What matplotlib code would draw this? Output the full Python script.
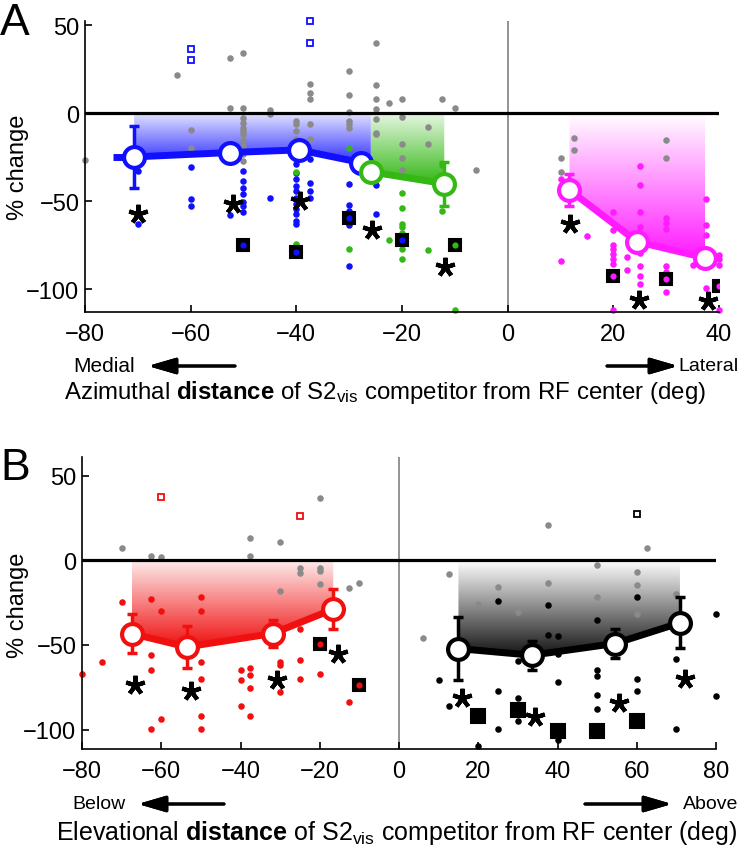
import numpy as np
import matplotlib
matplotlib.use("Agg")
import matplotlib.pyplot as plt
from matplotlib.patches import Polygon
from matplotlib.colors import to_rgb

plt.rcParams["font.family"] = "Liberation Sans"
plt.rcParams["mathtext.fontset"] = "custom"
plt.rcParams["mathtext.rm"] = "Liberation Sans"
plt.rcParams["mathtext.bf"] = "Liberation Sans:bold"
plt.rcParams["mathtext.it"] = "Liberation Sans:italic"

BLUE = "#1010ff"
GREEN = "#33b814"
MAGENTA = "#ff1aff"
RED = "#f01010"
BLACK = "#000000"
GRAY = "#8a8a8a"

# ---------------- Panel A: azimuth ----------------
az_gray_x = [-80, -62.5, -60, -60, -52.5, -50, -52.5, -50, -50, -50, -50, -50, -50, -50, -50, -50, -50,
             -45, -45, -40, -40, -40, -40, -40, -37.5, -37.5, -37.5, -37.5, -37.5,
             -30, -30, -30, -30, -30, -30, -25, -25, -25, -25, -25, -25, -25, -22.5,
             -20, -20, -20, -20, -20, -15, -15, -12.5, -10, -6,
             10, 10, 12.5, 12.5, 30, 30]
az_gray_y = [-26.5, 21.8, -9.5, -20, 31.4, 34.3, 2.8, 2.8, -2.4, -5.3, -8.1, -10, -11.9, -15.3, -18.6, -23.3, -27.1,
             1.9, -0.6, -4.4, -6.3, -10, -14.8, -21.4, 16.5, 11.8, 8, -6.3, -14.8,
             24, 10.6, 0.7, -4.4, -6.3, -8.1, 40.2, 16.3, 8, 2.3, -3, -11, -11.9, 5.9,
             8, -2.1, -17.2, -25.6, -32, -7.8, -17.2, 8, 3.2, -32,
             -25.2, -33.3, -13.8, -21, -15, -25.7]

az_blue_x = [-70, -70, -60, -60, -60, -52.5, -50, -50, -50, -50, -50, -50, -50, -45,
             -40, -40, -40, -40, -40, -40, -40, -40, -40, -40, -40,
             -37.5, -37.5, -37.5, -37.5, -30, -30, -30, -30, -30, -25, -25]
az_blue_y = [-32.8, -63, -30.4, -49, -52.7, -57.8, -32.8, -38.5, -42.2, -46, -50.7, -52.7, -55.9, -47.9,
             -29, -33.7, -37.5, -41.3, -44.1, -47.9, -51.7, -54.5, -57.4, -61.2, -63,
             -26, -39.5, -44, -48, -40.3, -52.3, -55.5, -63.6, -87.1, -40.7, -57.4]

az_green_x = [-30, -40, -40, -30, -20, -20, -20, -20, -20, -20, -20, -22.5, -15, -12.5, -12.5, -10]
az_green_y = [-19.5, -33.3, -74.4, -76.9, -45.3, -54, -62.7, -64.9, -67.8, -77.3, -82.6, -72, -77.8, -55.5, -29.4, -112]

az_mag_x = [10, 10, 15, 20, 20, 20, 20, 20, 20, 20, 20, 22.5, 22.5,
            25, 25, 25, 25, 25, 25, 25, 25, 30, 30, 30, 30, 30, 30, 35,
            37.5, 37.5, 37.5, 37.5, 40, 40, 40, 40]
az_mag_y = [-83.9, -37.5, -70, -55.9, -66.3, -75, -77.3, -80.1, -83, -85.8, -111.7, -82, -89,
            -29.9, -40.7, -55.9, -64.4, -79.5, -86.8, -92.4, -97.3, -59.3, -62.1, -65.9, -86.8, -90.5, -101.9, -86.2,
            -48.9, -63.6, -69.1, -99.6, -80.5, -83, -86.2, -112]

az_blue_sq_x = [-50, -40, -30, -20]
az_blue_sq_y = [-74.8, -78.8, -59.8, -72]
az_green_sq_x = [-10]
az_green_sq_y = [-75]
az_mag_sq_x = [20, 30, 40]
az_mag_sq_y = [-92.4, -94.5, -98.1]
az_blue_open_x = [-60, -60, -37.5, -37.5]
az_blue_open_y = [36.8, 30.3, 52.4, 40]

az_blue_mean_x = [-70.7, -52.5, -39.5, -27.8]
az_blue_mean_y = [-24.8, -22.3, -20.8, -28]
az_blue_err = [17.5, 3, 3, 3]
az_green_mean_x = [-25.9, -12]
az_green_mean_y = [-33.3, -40]
az_green_err = [3, 12.5]
az_mag_mean_x = [11.7, 24.5, 37.4]
az_mag_mean_y = [-43.6, -73, -82.2]
az_mag_err = [9, 3, 3]

az_star_x = [-70, -52, -39.3, -25.7, -11.8, 11.8, 24.9, 38]
az_star_y = [-57.4, -51.3, -49.8, -66.5, -87.3, -63, -106, -107]

# ---------------- Panel B: elevation ----------------
el_gray_x = [-70, -62.5, -60, -37.5, -37.5, -30, -30, -25, -25, -20, -20, -20, -20, -12.5, -10,
             6, 12.5, 20, 25, 30, 37.5, 37.5, 50, 50, 60, 60, 60, 62.5, 70]
el_gray_y = [7.3, 2.6, 2, 13.2, 2.6, 10.9, -18.3, -4.5, -7.3, 37, -4.5, -6.5, -14.2, -16.3, -13.2,
             -46.2, -7.9, -25.6, -15.7, -30.5, 21.1, -13.2, -3, -21.6, -6.9, -14.8, -31.5, 7.5, -19.7]

el_red_x = [-80, -75, -70, -62.5, -62.5, -62.5, -62.5, -60, -60,
            -50, -50, -50, -50, -50, -50, -40, -40, -40, -37.5, -37.5, -37.5, -37.5,
            -30, -30, -30, -25, -25, -25, -20, -12.5]
el_red_y = [-67.3, -60, -24.6, -22.6, -55.7, -65, -99.8, -30.1, -93.5,
            -22, -30.1, -60, -70.3, -92.1, -99.8, -65, -70.9, -86.2, -63.6, -67.5, -75.4, -92.1,
            -60, -62, -78.1, -40.8, -59, -69.9, -66.9, -84]

el_black_x = [10, 12.5, 20, 25, 25, 25, 30, 30, 30, 37.5, 37.5, 40, 40, 40, 40,
              50, 50, 50, 50, 50, 60, 60, 60, 70, 70, 80, 80]
el_black_y = [-70.9, -86, -110, -24.2, -77.2, -99.4, -59.7, -81.3, -95.1, -26.6, -43.9, -44.9, -55.1, -72.2, -106,
              -35, -65, -68.3, -79.7, -87.6, -21.6, -69.9, -77.4, -58.1, -99.4, -31.5, -80.3]

el_red_sq_x = [-20, -10]
el_red_sq_y = [-49.2, -73.8]
el_black_sq_x = [20, 30, 40, 50, 60]
el_black_sq_y = [-91.9, -88.6, -100.8, -100.8, -95.1]
el_red_open_x = [-60, -25]
el_red_open_y = [37.2, 26.2]
el_black_open_x = [60]
el_black_open_y = [27.6]

el_red_mean_x = [-67.5, -53.6, -31.9, -16.6]
el_red_mean_y = [-43.3, -51.2, -43.3, -28.9]
el_red_err = [11.6, 12.6, 8, 12]
el_black_mean_x = [15, 33.5, 54.5, 70.9]
el_black_mean_y = [-52.2, -56.1, -49.2, -37]
el_black_err = [18.7, 8.6, 8.4, 15]

el_star_x = [-66.6, -52.6, -30.9, -15.3, 15.8, 34.3, 55.6, 72.2]
el_star_y = [-73.8, -77.4, -70.9, -55.1, -81.1, -92.5, -84.6, -69.9]


def fx(px):
    return px / 740


def fy(py):
    return 1 - py / 853


def grad_fill(ax, xs, ys, color, start=0.08):
    verts = [(xs[0], 0)] + list(zip(xs, ys)) + [(xs[-1], 0)]
    poly = Polygon(verts, closed=True, facecolor="none", edgecolor="none")
    ax.add_patch(poly)
    t = np.linspace(start, 1, 256)[:, None, None]
    rgb = np.array(to_rgb(color))[None, None, :]
    img = (1 - t) * np.ones((1, 1, 3)) + t * rgb
    im = ax.imshow(img, extent=[xs[0], xs[-1], min(ys), 0], aspect="auto",
                   origin="upper", zorder=1, interpolation="bilinear")
    im.set_clip_path(poly)


def dots(ax, x, y, c):
    ax.plot(x, y, "o", ms=4.7, color=c, mec="none", zorder=2, clip_on=False)


def squares(ax, x, y, c, ms=8.5):
    ax.plot(x, y, "s", ms=ms, mfc="black", mec="black", mew=1.5, zorder=3)
    ax.plot(x, y, "o", ms=4.5, color=c, mec="none", zorder=3.1)


def open_squares(ax, x, y, c):
    ax.plot(x, y, "s", ms=5, mfc="white", mec=c, mew=1.3, zorder=3, clip_on=False)


def means(ax, x, y, err, c):
    ax.errorbar(x, y, yerr=err, fmt="none", ecolor=c, elinewidth=2.5,
                capsize=3.5, capthick=2.5, zorder=4)
    ax.plot(x, y, "-", color=c, lw=5, zorder=4, solid_capstyle="butt")
    ax.plot(x, y, "o", ms=15, mfc="white", mec=c, mew=3, zorder=5)


def stars(ax, x, y):
    ax.plot(x, y, ls="none", marker=(5, 2, 0), ms=14, mew=3, color="black", zorder=6)


def style(ax, xlim, ylim, xticks):
    ax.set_xlim(*xlim)
    ax.set_ylim(*ylim)
    ax.set_xticks(xticks)
    ax.set_yticks([-100, -50, 0, 50])
    for s in ["top", "right"]:
        ax.spines[s].set_visible(False)
    for s in ["left", "bottom"]:
        ax.spines[s].set_linewidth(1.2)
    ax.tick_params(direction="in", length=5, width=1.2, labelsize=17)
    ax.tick_params(axis="x", pad=8)
    ax.tick_params(axis="y", pad=4)
    ax.axhline(0, color="black", lw=2.3, zorder=3)
    ax.axvline(0, color=GRAY, lw=1.3, zorder=0)


fig = plt.figure(figsize=(7.4, 8.53), dpi=100)

# Panel A
axA = fig.add_axes([fx(85), fy(313), 634 / 740, 291 / 853])
grad_fill(axA, az_blue_mean_x + [az_green_mean_x[0]], az_blue_mean_y + [az_green_mean_y[0]], BLUE, start=0.12)
grad_fill(axA, az_green_mean_x, az_green_mean_y, GREEN, start=0.12)
grad_fill(axA, az_mag_mean_x, az_mag_mean_y, MAGENTA, start=0.0)
dots(axA, az_gray_x, az_gray_y, GRAY)
dots(axA, az_blue_x, az_blue_y, BLUE)
dots(axA, az_green_x, az_green_y, GREEN)
dots(axA, az_mag_x, az_mag_y, MAGENTA)
squares(axA, az_blue_sq_x, az_blue_sq_y, BLUE)
squares(axA, az_green_sq_x, az_green_sq_y, GREEN)
squares(axA, az_mag_sq_x, az_mag_sq_y, MAGENTA)
open_squares(axA, az_blue_open_x, az_blue_open_y, BLUE)
axA.errorbar(az_blue_mean_x[:1], az_blue_mean_y[:1], xerr=[[4], [0]], fmt="none",
             ecolor=BLUE, elinewidth=5, capsize=0, zorder=4)
means(axA, az_blue_mean_x, az_blue_mean_y, az_blue_err, BLUE)
means(axA, az_green_mean_x, az_green_mean_y, az_green_err, GREEN)
means(axA, az_mag_mean_x, az_mag_mean_y, az_mag_err, MAGENTA)
stars(axA, az_star_x, az_star_y)
style(axA, (-80, 40), (-113, 52.5), [-80, -60, -40, -20, 0, 20, 40])

# Panel B
axB = fig.add_axes([fx(82), fy(750), 634 / 740, 292 / 853])
grad_fill(axB, el_red_mean_x, el_red_mean_y, RED)
grad_fill(axB, el_black_mean_x, el_black_mean_y, "#151515", start=0.0)
dots(axB, el_gray_x, el_gray_y, GRAY)
dots(axB, el_red_x, el_red_y, RED)
dots(axB, el_black_x, el_black_y, BLACK)
squares(axB, el_red_sq_x, el_red_sq_y, RED)
squares(axB, el_black_sq_x, el_black_sq_y, BLACK, ms=10)
open_squares(axB, el_red_open_x, el_red_open_y, RED)
open_squares(axB, el_black_open_x, el_black_open_y, BLACK)
means(axB, el_red_mean_x, el_red_mean_y, el_red_err, RED)
means(axB, el_black_mean_x, el_black_mean_y, el_black_err, BLACK)
stars(axB, el_star_x, el_star_y)
style(axB, (-80, 80), (-111.5, 61), [-80, -60, -40, -20, 0, 20, 40, 60, 80])

# y labels
fig.text(fx(18), fy(167), "% change", rotation=90, fontsize=17, ha="center", va="center")
fig.text(fx(18), fy(605), "% change", rotation=90, fontsize=17, ha="center", va="center")

# panel letters
fig.text(fx(0), fy(35), "A", fontsize=32, va="baseline", ha="left")
fig.text(fx(0), fy(480), "B", fontsize=32, va="baseline", ha="left")

# direction arrows and labels
arrow = dict(arrowstyle="-|>,head_length=1.2,head_width=0.35", color="black", lw=2.2,
             mutation_scale=14, shrinkA=0, shrinkB=0)
fig.text(fx(73), fy(367), "Medial", fontsize=15, va="center", ha="left")
fig.add_artist(plt.annotate("", xy=(fx(148), fy(367)), xytext=(fx(235), fy(367)),
                            xycoords="figure fraction", arrowprops=arrow))
fig.text(fx(738), fy(367), "Lateral", fontsize=14, va="center", ha="right")
fig.add_artist(plt.annotate("", xy=(fx(678), fy(367)), xytext=(fx(607), fy(367)),
                            xycoords="figure fraction", arrowprops=arrow))
fig.text(fx(72), fy(805), "Below", fontsize=14, va="center", ha="left")
fig.add_artist(plt.annotate("", xy=(fx(138), fy(805)), xytext=(fx(224), fy(805)),
                            xycoords="figure fraction", arrowprops=arrow))
fig.text(fx(738), fy(805), "Above", fontsize=14, va="center", ha="right")
fig.add_artist(plt.annotate("", xy=(fx(672), fy(805)), xytext=(fx(585), fy(805)),
                            xycoords="figure fraction", arrowprops=arrow))

fig.text(fx(385), fy(393), r"Azimuthal $\mathbf{distance}$ of S2$_{\mathrm{vis}}$ competitor from RF center (deg)",
         fontsize=17.3, ha="center", va="center")
fig.text(fx(397), fy(833), r"Elevational $\mathbf{distance}$ of S2$_{\mathrm{vis}}$ competitor from RF center (deg)",
         fontsize=18, ha="center", va="center")

fig.savefig("out.png", dpi=100)
